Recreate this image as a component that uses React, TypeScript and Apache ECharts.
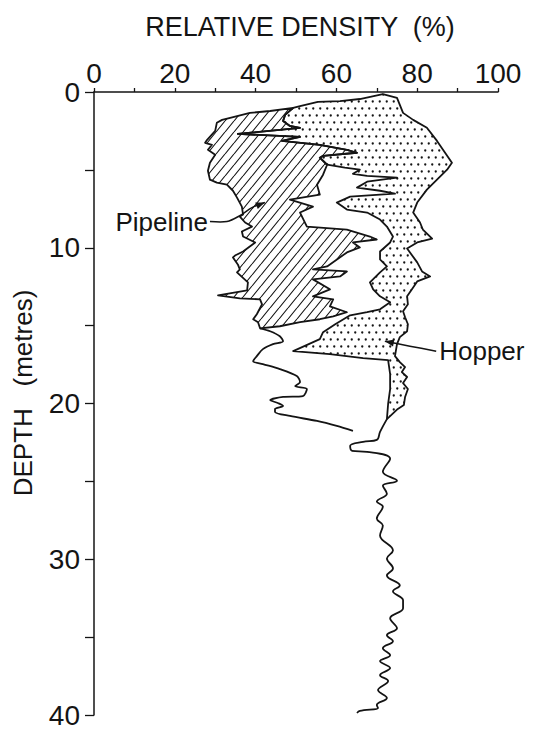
import React, { useEffect, useRef } from 'react';
import * as echarts from 'echarts';

// ---- data (x = relative density %, y = depth m) ----
const xLabelValues = [0, 20, 40, 60, 80, 100];
const depthLabelValues = [0, 10, 20, 30, 40];

// left edge of the hatched (pipeline) zone, continuing as the pipeline trace
const pipelineLeft: [number, number][] = [
  [49.3, 1.02], [43.6, 1.22], [38.6, 1.34], [33.7, 1.66], [31.7, 1.79], [30.4, 1.98], [30.0, 2.5],
  [28.0, 3.07], [27.5, 3.26], [29.2, 3.39], [28.2, 3.71], [30.0, 4.03], [28.7, 4.54], [28.2, 5.06],
  [28.7, 5.63], [30.4, 5.82], [32.9, 5.95], [34.4, 6.34], [35.4, 6.78], [36.6, 7.36], [36.9, 7.87],
  [36.1, 8.0], [37.4, 8.38], [39.1, 8.64], [36.6, 8.96], [36.9, 9.28], [39.9, 9.66], [36.9, 10.24],
  [34.9, 10.5], [34.4, 10.62], [35.6, 11.07], [36.1, 11.39], [35.4, 11.58], [38.1, 12.22], [37.9, 12.74],
  [30.7, 13.06], [36.1, 13.25], [41.1, 13.31], [41.6, 13.63], [40.3, 14.27], [39.4, 14.59], [40.6, 14.78],
  [41.1, 15.17], [43.6, 15.36], [46.0, 15.68], [46.8, 16.0], [44.3, 16.19], [41.8, 16.51], [40.3, 16.96],
  [39.4, 17.28], [41.8, 17.47], [46.0, 17.79], [50.2, 18.24], [51.0, 18.62], [49.8, 18.88], [52.7, 19.07],
  [51.7, 19.52], [46.8, 19.58], [43.6, 19.78], [45.5, 19.97], [46.8, 20.16], [44.8, 20.35], [44.8, 20.54],
  [48.5, 20.8], [55.2, 21.12], [60.1, 21.44], [64.1, 21.76],
];
const pipelineZoneBottom = 15.17;

// right edge of the hatched zone
const pipelineRight: [number, number][] = [
  [49.3, 1.02], [47.3, 1.47], [46.8, 1.86], [48.5, 2.18], [51.0, 2.3], [35.6, 2.69], [51.0, 2.88],
  [46.5, 3.14], [55.9, 3.39], [62.6, 3.71], [65.1, 3.9], [56.7, 4.1], [55.9, 4.22], [57.7, 4.67],
  [56.7, 5.31], [55.2, 5.95], [55.9, 6.59], [48.5, 6.91], [54.2, 7.36], [51.0, 7.74], [52.7, 8.64],
  [62.6, 8.83], [68.3, 9.28], [70.0, 9.47], [64.1, 9.66], [65.8, 9.98], [62.6, 10.3], [57.7, 11.2],
  [54.2, 11.39], [62.6, 11.52], [60.9, 11.84], [54.2, 12.03], [58.4, 12.67], [54.2, 13.12], [59.2, 13.31],
  [58.4, 13.76], [62.6, 14.14], [59.2, 14.4], [55.9, 14.59], [51.0, 14.78], [46.0, 15.04], [41.1, 15.17],
];

// left edge of the dotted (hopper) zone, continuing as the hopper trace to 40 m
const hopperLeft: [number, number][] = [
  [71.5, 0.13], [65.8, 0.45], [60.9, 0.58], [55.4, 0.64], [51.0, 0.9], [49.3, 1.02], [47.3, 1.47],
  [46.8, 1.86], [48.5, 2.18], [51.0, 2.3], [35.6, 2.69], [51.0, 2.88], [46.5, 3.14], [55.9, 3.39],
  [62.6, 3.71], [65.1, 3.9], [56.7, 4.1], [55.9, 4.22], [57.7, 4.67], [62.1, 4.86], [65.8, 4.99],
  [64.1, 5.25], [67.6, 5.38], [75.0, 5.5], [67.6, 5.76], [65.1, 6.14], [70.8, 6.34], [74.5, 6.53],
  [63.4, 6.72], [60.1, 7.1], [62.6, 7.55], [67.6, 7.74], [70.8, 8.19], [72.5, 8.64], [74.0, 9.28],
  [73.3, 9.66], [70.8, 10.24], [70.8, 10.75], [72.5, 11.2], [70.8, 11.58], [68.3, 12.22], [69.1, 12.67],
  [70.8, 13.12], [73.3, 13.5], [70.8, 13.95], [67.6, 14.14], [63.4, 14.34], [59.7, 14.91], [56.7, 15.42],
  [55.9, 15.87], [49.3, 16.64], [58.4, 16.83], [66.6, 17.09], [72.8, 17.22], [73.3, 18.11], [73.3, 19.07],
  [72.8, 20.03], [72.5, 21.0], [70.8, 21.82], [70.0, 22.34], [66.6, 22.46], [63.4, 22.72], [63.9, 23.04],
  [67.6, 23.1], [73.3, 23.55], [71.5, 24.38], [75.0, 24.96], [71.5, 25.28], [72.5, 25.79], [70.0, 26.3],
  [71.5, 26.62], [70.0, 27.39], [71.5, 27.84], [70.8, 28.48], [74.0, 29.44], [72.5, 29.95], [74.0, 30.59],
  [72.5, 31.04], [75.7, 31.68], [74.0, 32.06], [76.5, 32.64], [76.5, 33.15], [73.3, 33.79], [75.0, 34.43],
  [72.5, 34.88], [74.0, 35.26], [71.5, 35.71], [73.3, 36.16], [70.8, 36.54], [73.3, 36.99], [70.8, 37.44],
  [72.8, 37.82], [70.3, 38.4], [72.5, 38.91], [70.0, 39.36], [70.3, 39.55], [65.8, 39.74], [65.1, 39.87],
];
const hopperZoneBottom = 20.05;

// right edge of the dotted zone
const hopperRight: [number, number][] = [
  [71.5, 0.13], [75.0, 0.38], [75.7, 0.83], [76.5, 1.34], [79.0, 1.79], [82.4, 2.3], [84.9, 3.14],
  [86.9, 3.9], [88.6, 4.54], [87.4, 4.99], [84.9, 5.63], [82.4, 6.27], [80.0, 7.1], [79.0, 7.74],
  [80.7, 8.38], [81.4, 8.83], [83.7, 9.41], [80.0, 9.66], [77.5, 10.05], [80.0, 10.94], [81.2, 11.52],
  [83.2, 11.84], [80.0, 12.16], [78.7, 12.67], [77.5, 13.12], [77.7, 13.63], [76.5, 14.08], [77.0, 14.46],
  [77.7, 14.91], [77.5, 15.36], [75.7, 15.74], [75.0, 16.19], [74.5, 16.96], [75.7, 17.34], [77.0, 17.66],
  [76.2, 17.98], [77.5, 18.3], [76.5, 18.69], [77.7, 19.07], [77.0, 19.58], [76.7, 20.1], [75.2, 20.35],
];

// annotation labels with leader lines (leader runs from the label to the arrow tip)
const noteTexts = ['Pipeline', 'Hopper'];
const noteSides = ['right', 'left'];
const noteLeaders: [number, number][][] = [
  [[28.7, 8.32], [32.9, 8.32], [36.1, 7.94], [39.1, 7.42], [42.3, 7.1]],
  [[84.7, 16.64], [78.2, 16.32], [72.0, 16.0]],
];

const INK = '#141414';
const TICK_FONT = "'Liberation Sans Narrow', 'Liberation Sans', Arial, sans-serif";
const TITLE_FONT = "'Liberation Sans', Arial, sans-serif";

function makeHatch() {
  const w = 9, h = 11;
  const c = document.createElement('canvas');
  c.width = w; c.height = h;
  const g = c.getContext('2d')!;
  g.strokeStyle = INK; g.lineWidth = 1.1;
  g.beginPath();
  for (const dx of [-w, 0, w]) { g.moveTo(dx, h); g.lineTo(dx + w, 0); }
  g.stroke();
  return { image: c, repeat: 'repeat', imageWidth: w, imageHeight: h };
}

function makeDots() {
  const w = 7, h = 14;
  const c = document.createElement('canvas');
  c.width = w; c.height = h;
  const g = c.getContext('2d')!;
  g.fillStyle = INK;
  g.beginPath(); g.arc(1.75, 3.5, 1.15, 0, Math.PI * 2); g.fill();
  g.beginPath(); g.arc(5.25, 10.5, 1.15, 0, Math.PI * 2); g.fill();
  return { image: c, repeat: 'repeat', imageWidth: w, imageHeight: h };
}

export default function App() {
  const ref = useRef<HTMLDivElement>(null);
  useEffect(() => {
    if (!ref.current) return;
    const chart = echarts.init(ref.current, null, { renderer: 'svg' });
    const hatch = makeHatch();
    const dots = makeDots();

    const pEnd = pipelineLeft.findIndex((p) => p[1] >= pipelineZoneBottom);
    const hatchPoly = pipelineLeft.slice(0, pEnd + 1).concat(pipelineRight.slice().reverse());
    const hEnd = hopperLeft.findIndex((p) => p[1] >= hopperZoneBottom);
    const dotPoly = hopperLeft.slice(0, hEnd + 1).concat(hopperRight.slice().reverse());

    const polySeries = (poly: [number, number][], fill: any) => ({
      type: 'custom',
      coordinateSystem: 'cartesian2d',
      data: [poly[0]],
      silent: true,
      z: 2,
      renderItem: (_p: any, api: any) => ({
        type: 'polygon',
        shape: { points: poly.map((pt) => api.coord(pt)) },
        style: { fill, stroke: INK, lineWidth: 1.8, lineJoin: 'round' },
      }),
    });

    const lineSeries = (d: [number, number][], smooth: number) => ({
      type: 'line',
      data: d,
      showSymbol: false,
      silent: true,
      smooth,
      z: 3,
      lineStyle: { color: INK, width: 1.8, join: 'round' },
    });

    chart.setOption({
      animation: false,
      backgroundColor: '#fff',
      grid: { left: 94, right: 41, top: 92, bottom: 12 },
      xAxis: {
        type: 'value', position: 'top', min: 0, max: 100, interval: 10,
        axisLine: { onZero: false, lineStyle: { color: INK, width: 1.5 } },
        axisTick: { length: 4, lineStyle: { color: INK, width: 1.3 } },
        axisLabel: {
          margin: 5, color: INK, fontSize: 28, fontFamily: TICK_FONT,
          formatter: (v: number) => (xLabelValues.includes(v) ? String(v) : ''),
        },
        splitLine: { show: false },
      },
      yAxis: {
        type: 'value', inverse: true, min: 0, max: 40, interval: 5,
        axisLine: { onZero: false, lineStyle: { color: INK, width: 1.5 } },
        axisTick: { length: 9, lineStyle: { color: INK, width: 1.3 } },
        axisLabel: {
          margin: 14, color: INK, fontSize: 28, fontFamily: TICK_FONT,
          formatter: (v: number) => (depthLabelValues.includes(v) ? String(v) : ''),
        },
        splitLine: { show: false },
      },
      graphic: [
        {
          type: 'text', x: 300, y: 27,
          style: { text: 'RELATIVE DENSITY  (%)', fill: INK, font: `27px ${TITLE_FONT}`, align: 'center', verticalAlign: 'middle' },
        },
        {
          type: 'text', x: 23, y: 393, rotation: Math.PI / 2,
          style: { text: 'DEPTH   (metres)', fill: INK, font: `26px ${TITLE_FONT}`, align: 'center', verticalAlign: 'middle' },
        },
      ],
      series: [
        polySeries(dotPoly, dots),
        polySeries(hatchPoly, hatch),
        lineSeries(pipelineLeft.slice(pEnd), 0.3),
        lineSeries(hopperLeft.slice(hEnd), 0.4),
        {
          type: 'custom',
          coordinateSystem: 'cartesian2d',
          data: noteLeaders.map((l) => l[0]),
          silent: true,
          z: 4,
          renderItem: (params: any, api: any) => {
            const i = params.dataIndex;
            const pts = noteLeaders[i].map((p) => api.coord(p));
            const tip = pts[pts.length - 1];
            const prev = pts[pts.length - 2];
            const ang = Math.atan2(tip[1] - prev[1], tip[0] - prev[0]);
            const L = 9, W = 3.5;
            const bx = tip[0] - L * Math.cos(ang), by = tip[1] - L * Math.sin(ang);
            const head = [
              tip,
              [bx + W * Math.sin(ang), by - W * Math.cos(ang)],
              [bx - W * Math.sin(ang), by + W * Math.cos(ang)],
            ];
            const start = pts[0];
            const side = noteSides[i];
            return {
              type: 'group',
              children: [
                { type: 'polyline', shape: { points: pts, smooth: 0.3 }, style: { stroke: INK, lineWidth: 1.5, fill: 'none' } },
                { type: 'polygon', shape: { points: head }, style: { fill: INK } },
                {
                  type: 'text',
                  x: side === 'right' ? start[0] - 2 : start[0] + 3,
                  y: start[1],
                  style: {
                    text: noteTexts[i], fill: INK, font: `26px ${TITLE_FONT}`,
                    align: side === 'right' ? 'right' : 'left', verticalAlign: 'middle',
                  },
                },
              ],
            };
          },
        },
      ],
    });
    return () => chart.dispose();
  }, []);
  return (
    <div
      ref={ref}
      style={{ position: 'fixed', left: 0, top: 0, width: 539, height: 729, background: '#fff' }}
    />
  );
}
